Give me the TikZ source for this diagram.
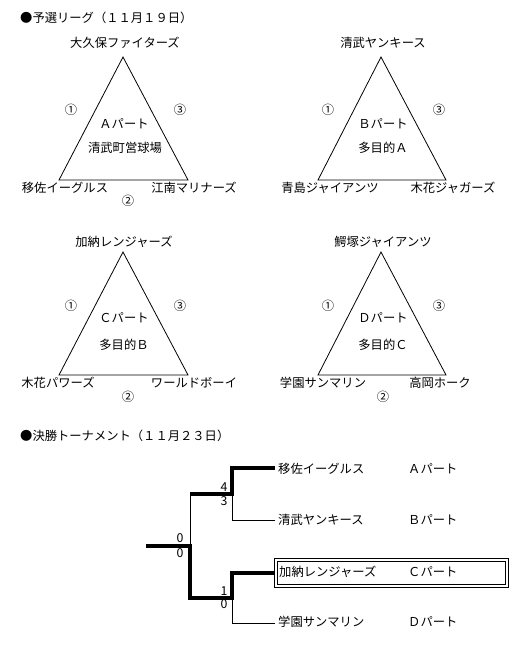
\documentclass[tikz,border=0pt]{standalone}
\usepackage{fontspec}
\newfontfamily\jp{Noto Sans CJK JP}
\begin{document}
\begin{tikzpicture}[x=1pt,y=-1pt,
  every node/.style={font=\jp\fontsize{12.3}{14}\selectfont, inner sep=0pt},
  tri/.style={draw=black, line width=0.8pt, line join=miter},
  thinline/.style={draw=black, line width=0.8pt},
  thickline/.style={draw=black, line width=3.6pt, line join=miter},
  boxline/.style={draw=black, line width=0.8pt},
  lbl/.style={anchor=west}]
\useasboundingbox (0,0) rectangle (525,651);
% ---------- Title 1
\node[anchor=west] (t1) at (20,18) {●予選リーグ（１１月１９日）};
% ---------- Triangle A
\coordinate (aT) at (123,57); \coordinate (aL) at (59,180); \coordinate (aR) at (188,180);
\draw[tri] (aT) -- (aL) -- (aR) -- cycle;
\node (aTop) at (125,43) {大久保ファイターズ};
\node (aLeft) at (65,188) {移佐イーグルス};
\node (aRight) at (194,188) {江南マリナーズ};
\node (a1) at (71,110) {①};
\node (a3) at (180,110) {③};
\node (a2) at (128,201) {②};
\node (aP) at (124,124) {Ａパート};
\node (aV) at (125,148) {清武町営球場};
% ---------- Triangle B
\coordinate (bT) at (381,57); \coordinate (bL) at (318,180); \coordinate (bR) at (446,180);
\draw[tri] (bT) -- (bL) -- (bR) -- cycle;
\node (bTop) at (383,43) {清武ヤンキース};
\node (bLeft) at (330,188) {青島ジャイアンツ};
\node (bRight) at (453,188) {木花ジャガーズ};
\node (b1) at (328,110) {①};
\node (b3) at (439,110) {③};
\node (bP) at (383,124) {Ｂパート};
\node (bV) at (383,148) {多目的Ａ};
% ---------- Triangle C
\coordinate (cT) at (123,252); \coordinate (cL) at (59,375); \coordinate (cR) at (188,375);
\draw[tri] (cT) -- (cL) -- (cR) -- cycle;
\node (cTop) at (124,242) {加納レンジャーズ};
\node (cLeft) at (58,383) {木花パワーズ};
\node (cRight) at (194,383) {ワールドボーイ};
\node (c1) at (71,306) {①};
\node (c3) at (180,306) {③};
\node (c2) at (128,397) {②};
\node (cP) at (124,318) {Ｃパート};
\node (cV) at (124,345) {多目的Ｂ};
% ---------- Triangle D
\coordinate (dT) at (381,252); \coordinate (dL) at (318,375); \coordinate (dR) at (446,375);
\draw[tri] (dT) -- (dL) -- (dR) -- cycle;
\node (dTop) at (383,242) {鰐塚ジャイアンツ};
\node (dLeft) at (323,383) {学園サンマリン};
\node (dRight) at (440,383) {高岡ホーク};
\node (d1) at (328,306) {①};
\node (d3) at (439,306) {③};
\node (d2) at (383,397) {②};
\node (dP) at (383,318) {Ｄパート};
\node (dV) at (383,345) {多目的Ｃ};
% ---------- Title 2
\node[anchor=west] (t2) at (20,436) {●決勝トーナメント（１１月２３日）};
% ---------- Bracket
\node[lbl] (e1) at (278,469) {移佐イーグルス};
\node[lbl] (e2) at (278,520) {清武ヤンキース};
\coordinate (bo1) at (274,558); \coordinate (bo2) at (508,587);
\coordinate (bi1) at (277,561); \coordinate (bi2) at (505,584);
\draw[boxline] (bo1) rectangle (bo2);
\draw[boxline] (bi1) rectangle (bi2);
\node[lbl] (e3) at (279,572) {加納レンジャーズ};
\node[lbl] (e4) at (278,622) {学園サンマリン};
\node[lbl] (p1) at (408,469) {Ａパート};
\node[lbl] (p2) at (408,520) {Ｂパート};
\node[lbl] (p3) at (408,572) {Ｃパート};
\node[lbl] (p4) at (408,622) {Ｄパート};
\coordinate (s0) at (146,546); \coordinate (j0) at (190,546);
\coordinate (u1) at (190,494); \coordinate (l1) at (190,598);
\coordinate (ju) at (232,494); \coordinate (jl) at (232,598);
\coordinate (k1) at (232,468); \coordinate (k2) at (232,520);
\coordinate (k3) at (232,573); \coordinate (k4) at (232,623);
\coordinate (e1w) at (275,468); \coordinate (e2w) at (275,520);
\coordinate (e3w) at (274,573); \coordinate (e4w) at (275,623);
\draw[thinline] (j0) -- (u1);
\draw[thinline] (ju) -- (k2) -- (e2w);
\draw[thinline] (jl) -- (k4) -- (e4w);
\draw[thickline] (s0) -- (j0) -- (l1) -- (jl) -- (k3) -- (e3w);
\draw[thickline] (u1) -- (ju) -- (k1) -- (e1w);
\node (sc1) at (224,487) {4};
\node (sc2) at (224,501) {3};
\node (sc3) at (180,538) {0};
\node (sc4) at (180,553) {0};
\node (sc5) at (224,591) {1};
\node (sc6) at (224,604) {0};
\end{tikzpicture}
\end{document}
